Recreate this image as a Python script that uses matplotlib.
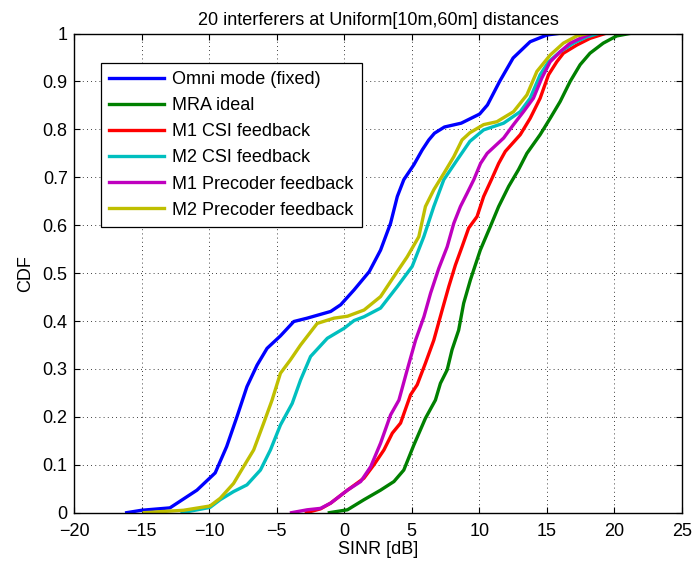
import matplotlib

matplotlib.use("Agg")
import matplotlib.pyplot as plt

# CDF curves (SINR in dB, CDF value)
omni_x = [-16.1, -15.0, -12.9, -10.9, -9.55, -8.7, -7.94, -7.2, -6.45, -5.71, -4.72, -3.73, -2.74, -1.0,
          -0.26, 0.73, 1.85, 2.69, 3.43, 3.93, 4.41, 5.15, 5.77, 6.26, 6.68, 7.42, 8.66, 10.02, 10.6, 11.5,
          12.5, 13.76, 15.0, 15.8]
omni_y = [0, 0.005, 0.01, 0.047, 0.083, 0.138, 0.2, 0.263, 0.308, 0.343, 0.369, 0.399, 0.406, 0.42,
          0.434, 0.465, 0.503, 0.548, 0.604, 0.66, 0.695, 0.726, 0.757, 0.778, 0.792, 0.805, 0.813, 0.832,
          0.851, 0.9, 0.949, 0.983, 0.997, 1.0]

mra_x = [-1.1, 0.24, 1.46, 2.69, 3.68, 4.41, 5.15, 6.01, 6.75, 7.12, 7.62, 7.98, 8.47, 8.84, 9.34, 10.07,
         10.81, 11.43, 12.17, 12.9, 13.52, 14.5, 15.24, 15.98, 16.72, 17.46, 18.19, 19.17, 20.16, 21.1]
mra_y = [0, 0.006, 0.027, 0.047, 0.065, 0.089, 0.141, 0.197, 0.235, 0.27, 0.298, 0.34, 0.381, 0.437, 0.486,
         0.548, 0.597, 0.639, 0.681, 0.716, 0.75, 0.789, 0.823, 0.858, 0.9, 0.935, 0.959, 0.98, 0.995, 1.0]

m1_csi_x = [-2.8, -1.75, -1.0, 0.24, 1.46, 2.2, 2.94, 3.56, 4.17, 4.91, 5.4, 6.01, 6.63, 7.25, 7.74, 8.23,
            8.72, 9.21, 9.83, 10.32, 10.94, 11.43, 11.92, 13.03, 13.76, 14.5, 15.12, 15.73, 16.22, 17.21,
            18.19, 19.3]
m1_csi_y = [0, 0.008, 0.02, 0.047, 0.072, 0.1, 0.131, 0.166, 0.187, 0.246, 0.267, 0.312, 0.36, 0.423, 0.472,
            0.517, 0.555, 0.594, 0.618, 0.66, 0.698, 0.729, 0.754, 0.789, 0.823, 0.865, 0.914, 0.941, 0.959,
            0.976, 0.99, 1.0]

m2_csi_x = [-12.0, -9.93, -9.18, -8.19, -7.2, -6.2, -5.46, -4.72, -3.85, -3.23, -2.49, -1.25, 0.0, 0.73,
            1.47, 2.69, 3.93, 5.03, 5.89, 6.63, 7.37, 8.35, 9.3, 10.32, 11.8, 13.03, 13.76, 14.5, 15.12,
            15.98, 16.96, 17.95, 18.8]
m2_csi_y = [0, 0.011, 0.027, 0.044, 0.058, 0.089, 0.131, 0.183, 0.228, 0.277, 0.326, 0.364, 0.385, 0.401,
            0.409, 0.427, 0.472, 0.514, 0.576, 0.639, 0.695, 0.736, 0.775, 0.799, 0.813, 0.837, 0.865, 0.914,
            0.941, 0.962, 0.98, 0.993, 1.0]

m1_prec_x = [-3.9, -2.74, -1.75, -1.0, 0.24, 1.22, 1.96, 2.69, 3.43, 4.05, 4.66, 5.28, 5.9, 6.39, 7.0, 7.62,
             8.11, 8.6, 9.1, 9.59, 10.09, 10.58, 11.8, 12.53, 13.27, 14.0, 14.62, 15.24, 15.98, 16.72, 17.46,
             18.3]
m1_prec_y = [0, 0.006, 0.009, 0.02, 0.047, 0.065, 0.096, 0.145, 0.204, 0.235, 0.298, 0.36, 0.409, 0.458,
             0.51, 0.555, 0.604, 0.639, 0.667, 0.695, 0.729, 0.75, 0.782, 0.81, 0.837, 0.865, 0.907, 0.941,
             0.962, 0.98, 0.99, 1.0]

m2_prec_x = [-14.8, -11.9, -9.93, -9.18, -8.19, -7.45, -6.7, -5.96, -5.34, -4.72, -3.98, -3.23, -2.0, -0.76,
             0.24, 1.47, 2.69, 3.68, 4.66, 5.52, 6.01, 6.63, 7.37, 8.11, 8.72, 9.3, 10.32, 11.3, 12.53, 13.52,
             14.26, 15.24, 16.22, 17.21, 18.0]
m2_prec_y = [0, 0.005, 0.014, 0.03, 0.061, 0.096, 0.131, 0.187, 0.235, 0.291, 0.319, 0.35, 0.395, 0.406,
             0.41, 0.423, 0.451, 0.493, 0.534, 0.576, 0.639, 0.674, 0.708, 0.743, 0.778, 0.793, 0.81, 0.816,
             0.837, 0.872, 0.921, 0.955, 0.98, 0.995, 1.0]

labels = ["Omni mode (fixed)", "MRA ideal", "M1 CSI feedback", "M2 CSI feedback",
          "M1 Precoder feedback", "M2 Precoder feedback"]
x_ticks = [-20, -15, -10, -5, 0, 5, 10, 15, 20, 25]
y_ticks = [0, 0.1, 0.2, 0.3, 0.4, 0.5, 0.6, 0.7, 0.8, 0.9, 1]
y_tick_labels = ["0", "0.1", "0.2", "0.3", "0.4", "0.5", "0.6", "0.7", "0.8", "0.9", "1"]

colors = ["#0000ff", "#008000", "#ff0000", "#00bfbf", "#bf00bf", "#bfbf00"]

plt.rcParams["font.family"] = ["Liberation Sans", "DejaVu Sans"]
fs = 13

fig = plt.figure(figsize=(6.96, 5.69), dpi=100)
ax = fig.add_axes([0.1063, 0.099, 0.8736, 0.842])

series = [(omni_x, omni_y), (mra_x, mra_y), (m1_csi_x, m1_csi_y), (m2_csi_x, m2_csi_y),
          (m1_prec_x, m1_prec_y), (m2_prec_x, m2_prec_y)]
for (xs, ys), color, label in zip(series, colors, labels):
    ax.plot(xs, ys, color=color, lw=2.4, label=label)

ax.set_xlim(-20, 25)
ax.set_ylim(0, 1)
ax.set_xticks(x_ticks)
ax.set_xticklabels([str(t).replace("-", "\u2212") for t in x_ticks])
ax.set_yticks(y_ticks)
ax.set_yticklabels(y_tick_labels)
ax.tick_params(direction="in", top=True, right=True, length=4, width=0.8, labelsize=fs)
ax.tick_params(axis="x", pad=7.5)
ax.tick_params(axis="y", pad=4.5)
ax.grid(True, linestyle=(0, (1, 4)), color="black", linewidth=0.6)
for spine in ax.spines.values():
    spine.set_linewidth(1.0)

ax.set_xlabel("SINR [dB]", fontsize=fs, labelpad=1)
ax.set_ylabel("CDF", fontsize=fs, labelpad=6)
ax.set_title("20 interferers at Uniform[10m,60m] distances", fontsize=fs, pad=6)

leg = ax.legend(loc="upper left", bbox_to_anchor=(0.044, 0.938), borderaxespad=0, fontsize=fs,
                fancybox=False, framealpha=1, edgecolor="black", handlelength=3.05, labelspacing=0.5,
                borderpad=0.45, handletextpad=0.45)
leg.get_frame().set_linewidth(0.9)

fig.savefig("out.png", dpi=100)
